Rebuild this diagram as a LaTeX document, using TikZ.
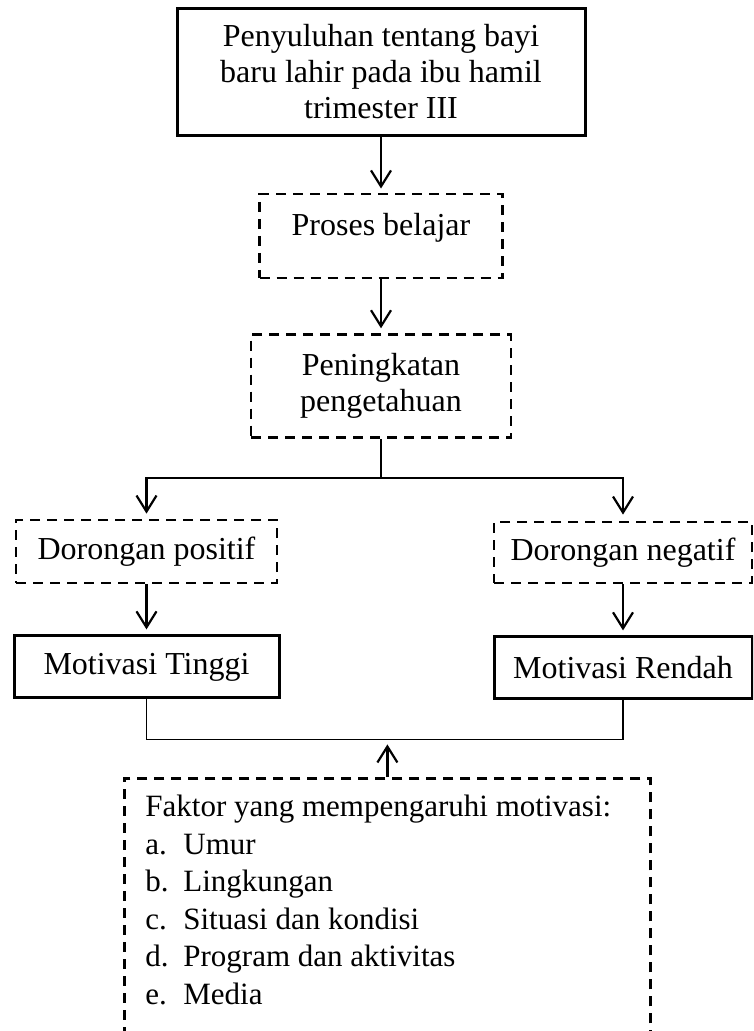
\documentclass[tikz,border=0pt]{standalone}
\usepackage{fontspec}
\setmainfont{Liberation Serif}
\usepackage{tikz}
\usetikzlibrary{arrows.meta, positioning}
\tikzstyle{solidbox} = [rectangle, draw=black, line width=3pt, align=center, inner sep=4pt, font=\fontsize{32}{36}\selectfont]
\tikzstyle{dashbox} = [rectangle, draw=black, line width=2.8pt, dash pattern=on 10pt off 7pt, align=center, inner sep=4pt, font=\fontsize{32}{36}\selectfont]
\tikzstyle{arrow} = [line width=2.2pt, -{Straight Barb[length=16pt,width=20pt]}]
\tikzstyle{joinline} = [line width=1.8pt]

\begin{document}
\begin{tikzpicture}[x=1pt, y=-1pt]
  \useasboundingbox (0,0) rectangle (753,1031);
  \clip (0,0) rectangle (753,1031);

  % Upper chain
  \node (penyuluhan) [solidbox, minimum width=408pt, minimum height=127pt] at (381,71.5) {Penyuluhan tentang bayi\\baru lahir pada ibu hamil\\trimester III};
  \node (proses) [dashbox, minimum width=243pt, minimum height=84pt, text depth=24pt, below=56pt of penyuluhan] {Proses belajar};
  \node (peningkatan) [dashbox, minimum width=260pt, minimum height=103pt, below=54pt of proses] {Peningkatan\\pengetahuan};

  % Two branches
  \node (dorpos) [dashbox, minimum width=261pt, minimum height=63pt] at (146.5,551.5) {Dorongan positif};
  \node (dorneg) [dashbox, minimum width=258pt, minimum height=61pt] at (623,552.5) {Dorongan negatif};
  \node (mtinggi) [solidbox, minimum width=265pt, minimum height=62pt, below=50pt of dorpos] {Motivasi Tinggi};
  \node (mrendah) [solidbox, minimum width=258pt, minimum height=62pt, below=51pt of dorneg] {Motivasi Rendah};

  % Factors (box runs past the lower edge)
  \node (faktor) [dashbox, anchor=north west, align=left, inner xsep=21pt, inner ysep=17pt, font=\fontsize{31}{37.5}\selectfont] at (123,777) {\parbox[t][280pt][t]{484pt}{\raggedright
    Faktor yang mempengaruhi motivasi:\\
    \makebox[38pt][l]{a.}Umur\\
    \makebox[38pt][l]{b.}Lingkungan\\
    \makebox[38pt][l]{c.}Situasi dan kondisi\\
    \makebox[38pt][l]{d.}Program dan aktivitas\\
    \makebox[38pt][l]{e.}Media}};

  % Arrows
  \draw[arrow, shorten >=4pt] (penyuluhan.south) -- (proses.north);
  \draw[arrow, shorten >=5pt] (proses.south) -- (peningkatan.north);
  \draw[line width=2.2pt] (peningkatan.south) -- ++(0,39) coordinate (split);
  \draw[arrow, shorten >=5pt] (split) -| (dorpos.north);
  \draw[arrow, shorten >=6pt] (split) -| (dorneg.north);
  \draw[arrow, shorten >=5pt] (dorpos.south) -- (mtinggi.north);
  \draw[arrow, shorten >=5pt] (dorneg.south) -- (mrendah.north);

  % Join and feedback
  \draw[joinline] (mtinggi.south) -- ++(0,40) coordinate (merge) -| (mrendah.south);
  \draw[arrow, shorten >=5pt] (faktor.north) -- (faktor.north |- merge);
\end{tikzpicture}
\end{document}
